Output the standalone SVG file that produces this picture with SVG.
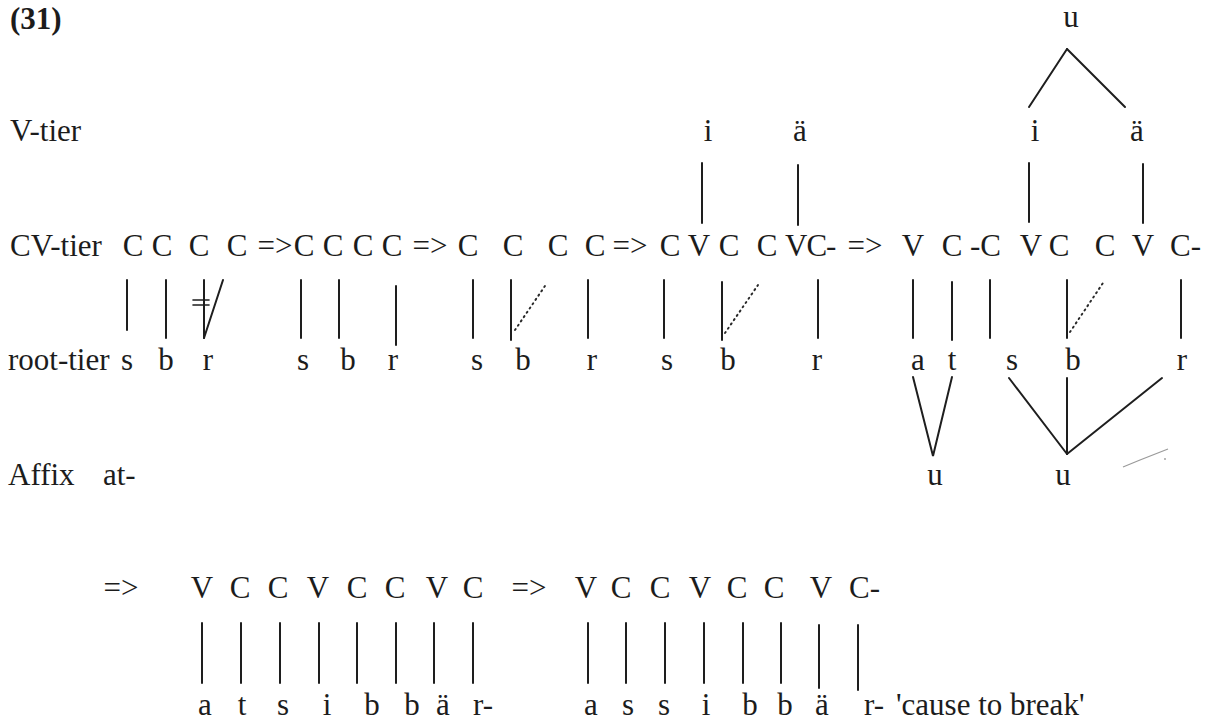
<svg xmlns="http://www.w3.org/2000/svg" width="1217" height="721" viewBox="0 0 1217 721">
  <style>
    text { font-family: "Liberation Serif", "Times New Roman", serif; font-size: 31px; fill: #1c1c1c; }
    .c { text-anchor: middle; }
    .b { font-weight: bold; }
    .ln { stroke: #1e1e1e; stroke-width: 2; fill: none; stroke-linecap: round; }
    .dt { stroke: #2a2a2a; stroke-width: 2; stroke-dasharray: 1.2 4; stroke-linecap: round; }
    .smudge { stroke: #9a9a9a; stroke-width: 1.2; fill: none; }
  </style>

  <!-- example number and tier labels -->
  <g id="labels">
    <text class="b" x="10" y="29">(31)</text>
    <text x="10" y="141">V-tier</text>
    <text x="10" y="256">CV-tier</text>
    <text x="8" y="370">root-tier</text>
    <text x="8" y="485">Affix</text>
    <text x="103" y="485">at-</text>
  </g>

  <!-- stage 1: C C C C with delinked r -->
  <g id="stage1">
    <text class="c" x="133" y="256">C</text>
    <text class="c" x="162" y="256">C</text>
    <text class="c" x="199" y="256">C</text>
    <text class="c" x="237" y="256">C</text>
    <text class="c" x="127" y="370">s</text>
    <text class="c" x="166" y="370">b</text>
    <text class="c" x="208" y="370">r</text>
  </g>
  <g id="arrow1"><text class="c" x="275" y="256">=&gt;</text></g>

  <!-- stage 2 -->
  <g id="stage2">
    <text class="c" x="304" y="256">C</text>
    <text class="c" x="333" y="256">C</text>
    <text class="c" x="363" y="256">C</text>
    <text class="c" x="392" y="256">C</text>
    <text class="c" x="303" y="370">s</text>
    <text class="c" x="348" y="370">b</text>
    <text class="c" x="393" y="370">r</text>
  </g>
  <g id="arrow2"><text class="c" x="430" y="256">=&gt;</text></g>

  <!-- stage 3: gemination of b -->
  <g id="stage3">
    <text class="c" x="468" y="256">C</text>
    <text class="c" x="513" y="256">C</text>
    <text class="c" x="558" y="256">C</text>
    <text class="c" x="595" y="256">C</text>
    <text class="c" x="477" y="370">s</text>
    <text class="c" x="523" y="370">b</text>
    <text class="c" x="592" y="370">r</text>
  </g>
  <g id="arrow3"><text class="c" x="630" y="256">=&gt;</text></g>

  <!-- stage 4: vowel melody i-ä -->
  <g id="stage4">
    <text class="c" x="708" y="141">i</text>
    <text class="c" x="800" y="141">ä</text>
    <text class="c" x="670" y="256">C</text>
    <text class="c" x="699" y="256">V</text>
    <text class="c" x="729" y="256">C</text>
    <text class="c" x="767" y="256">C</text>
    <text x="785" y="256" letter-spacing="-1">VC-</text>
    <text class="c" x="667" y="370">s</text>
    <text class="c" x="728" y="370">b</text>
    <text class="c" x="817" y="370">r</text>
  </g>
  <g id="arrow4"><text class="c" x="865" y="256">=&gt;</text></g>

  <!-- stage 5: affix at- and u-feature -->
  <g id="stage5">
    <text class="c" x="1071" y="27">u</text>
    <text class="c" x="1035" y="141">i</text>
    <text class="c" x="1137" y="141">ä</text>
    <text class="c" x="913" y="256">V</text>
    <text class="c" x="952" y="256">C</text>
    <text x="970" y="256">-C</text>
    <text class="c" x="1031" y="256">V</text>
    <text class="c" x="1059" y="256">C</text>
    <text class="c" x="1105" y="256">C</text>
    <text class="c" x="1143" y="256">V</text>
    <text x="1170" y="256">C-</text>
    <text class="c" x="918" y="370">a</text>
    <text class="c" x="952" y="370">t</text>
    <text class="c" x="1012" y="370">s</text>
    <text class="c" x="1073" y="370">b</text>
    <text class="c" x="1182" y="370">r</text>
    <text class="c" x="935" y="485">u</text>
    <text class="c" x="1063" y="485">u</text>
  </g>

  <!-- stage 6: surface skeleton -->
  <g id="arrow5"><text class="c" x="121" y="598">=&gt;</text></g>
  <g id="stage6">
    <text class="c" x="202" y="598">V</text>
    <text class="c" x="240" y="598">C</text>
    <text class="c" x="278" y="598">C</text>
    <text class="c" x="318" y="598">V</text>
    <text class="c" x="357" y="598">C</text>
    <text class="c" x="395" y="598">C</text>
    <text class="c" x="437" y="598">V</text>
    <text class="c" x="473" y="598">C</text>
    <text class="c" x="205" y="715">a</text>
    <text class="c" x="242" y="715">t</text>
    <text class="c" x="283" y="715">s</text>
    <text class="c" x="327" y="715">i</text>
    <text class="c" x="372" y="715">b</text>
    <text class="c" x="412" y="715">b</text>
    <text class="c" x="443" y="715">ä</text>
    <text x="473" y="715">r-</text>
  </g>

  <!-- stage 7: assimilated output -->
  <g id="arrow6"><text class="c" x="529" y="598">=&gt;</text></g>
  <g id="stage7">
    <text class="c" x="586" y="598">V</text>
    <text class="c" x="621" y="598">C</text>
    <text class="c" x="660" y="598">C</text>
    <text class="c" x="700" y="598">V</text>
    <text class="c" x="737" y="598">C</text>
    <text class="c" x="774" y="598">C</text>
    <text class="c" x="821" y="598">V</text>
    <text x="849" y="598">C-</text>
    <text class="c" x="591" y="715">a</text>
    <text class="c" x="628" y="715">s</text>
    <text class="c" x="664" y="715">s</text>
    <text class="c" x="706" y="715">i</text>
    <text class="c" x="750" y="715">b</text>
    <text class="c" x="785" y="715">b</text>
    <text class="c" x="822" y="715">ä</text>
    <text x="864" y="715">r-</text>
  </g>
  <g id="gloss"><text x="896" y="715">'cause to break'</text></g>

  <!-- association lines -->
  <g id="connectors">
    <!-- stage 1 -->
    <line class="ln" x1="127" y1="280" x2="127" y2="330"/>
    <line class="ln" x1="166" y1="280" x2="166" y2="338"/>
    <line class="ln" x1="204" y1="280" x2="204" y2="338"/>
    <line class="ln" x1="204" y1="338" x2="223" y2="280"/>
    <line class="ln" x1="193" y1="300" x2="209" y2="300" style="stroke-width:1.6"/>
    <line class="ln" x1="193" y1="305" x2="209" y2="305" style="stroke-width:1.6"/>
    <!-- stage 2 -->
    <line class="ln" x1="301" y1="280" x2="301" y2="338"/>
    <line class="ln" x1="339" y1="280" x2="339" y2="338"/>
    <line class="ln" x1="396" y1="286" x2="396" y2="345"/>
    <!-- stage 3 -->
    <line class="ln" x1="473" y1="280" x2="473" y2="338"/>
    <line class="ln" x1="511" y1="280" x2="511" y2="340"/>
    <line class="dt" x1="515" y1="330" x2="547" y2="283"/>
    <line class="ln" x1="588" y1="280" x2="588" y2="338"/>
    <!-- stage 4 -->
    <line class="ln" x1="702" y1="163" x2="702" y2="223"/>
    <line class="ln" x1="798" y1="165" x2="798" y2="225"/>
    <line class="ln" x1="664" y1="280" x2="664" y2="338"/>
    <line class="ln" x1="722" y1="282" x2="722" y2="340"/>
    <line class="dt" x1="725" y1="333" x2="758" y2="285"/>
    <line class="ln" x1="818" y1="280" x2="818" y2="338"/>
    <!-- stage 5 -->
    <line class="ln" x1="1067" y1="49" x2="1029" y2="107"/>
    <line class="ln" x1="1067" y1="49" x2="1125" y2="107"/>
    <line class="ln" x1="1029" y1="163" x2="1029" y2="222"/>
    <line class="ln" x1="1143" y1="164" x2="1143" y2="223"/>
    <line class="ln" x1="913" y1="280" x2="913" y2="338"/>
    <line class="ln" x1="952" y1="282" x2="952" y2="340"/>
    <line class="ln" x1="990" y1="280" x2="990" y2="338"/>
    <line class="ln" x1="1067" y1="280" x2="1067" y2="338"/>
    <line class="dt" x1="1070" y1="332" x2="1103" y2="283"/>
    <line class="ln" x1="1181" y1="280" x2="1181" y2="338"/>
    <polyline class="ln" points="913,377 933,456 952,377"/>
    <line class="ln" x1="1009" y1="378" x2="1067" y2="454"/>
    <line class="ln" x1="1067" y1="378" x2="1067" y2="454"/>
    <line class="ln" x1="1162" y1="378" x2="1067" y2="454"/>
    <!-- stage 6 -->
    <line class="ln" x1="202" y1="623" x2="202" y2="683"/>
    <line class="ln" x1="241" y1="623" x2="241" y2="683"/>
    <line class="ln" x1="280" y1="623" x2="280" y2="683"/>
    <line class="ln" x1="319" y1="623" x2="319" y2="683"/>
    <line class="ln" x1="357" y1="623" x2="357" y2="683"/>
    <line class="ln" x1="396" y1="623" x2="396" y2="683"/>
    <line class="ln" x1="434" y1="623" x2="434" y2="683"/>
    <line class="ln" x1="473" y1="623" x2="473" y2="683"/>
    <!-- stage 7 -->
    <line class="ln" x1="588" y1="623" x2="588" y2="683"/>
    <line class="ln" x1="626" y1="623" x2="626" y2="683"/>
    <line class="ln" x1="665" y1="623" x2="665" y2="683"/>
    <line class="ln" x1="704" y1="623" x2="704" y2="683"/>
    <line class="ln" x1="743" y1="623" x2="743" y2="683"/>
    <line class="ln" x1="781" y1="623" x2="781" y2="683"/>
    <line class="ln" x1="819" y1="625" x2="819" y2="688"/>
    <line class="ln" x1="858" y1="625" x2="858" y2="690"/>
  </g>

  <!-- stray pen stroke -->
  <g id="mark">
    <path class="smudge" d="M1123,467 L1140,460 L1168,449"/>
    <circle cx="1165" cy="459" r="0.9" fill="#9a9a9a"/>
  </g>
</svg>
